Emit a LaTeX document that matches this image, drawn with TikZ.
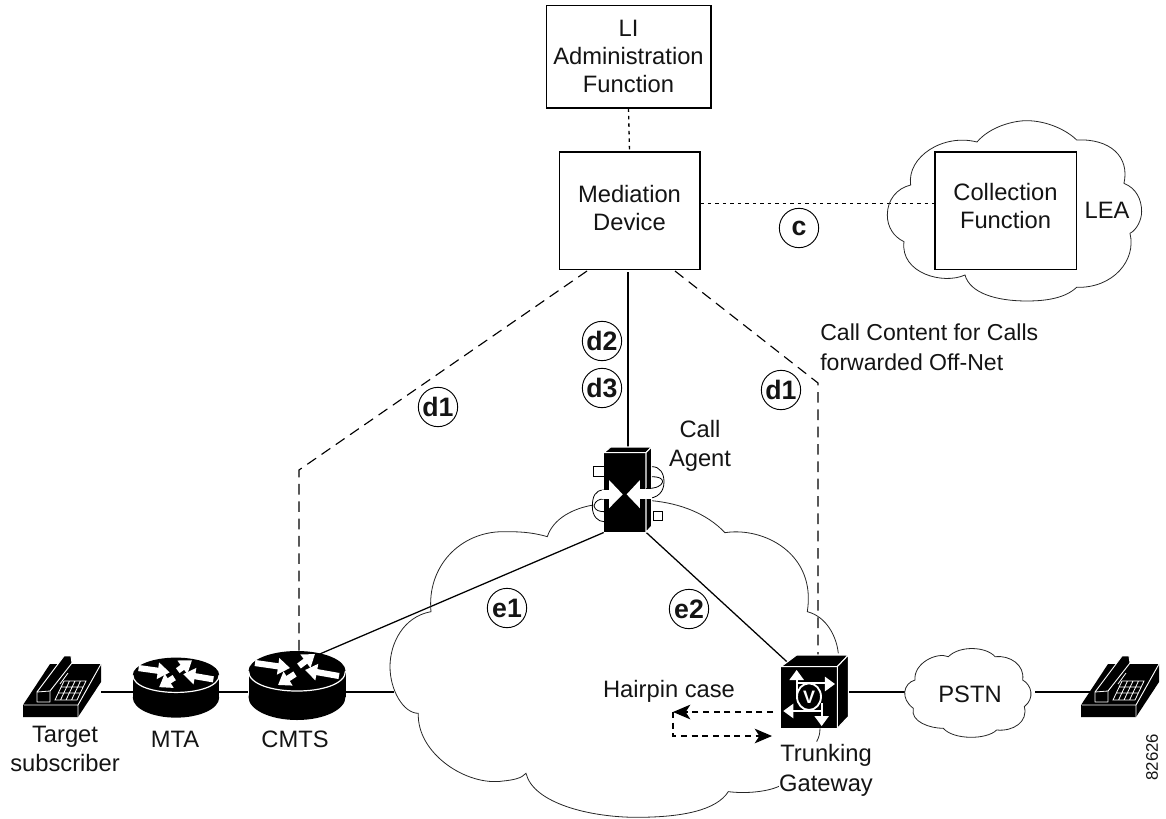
\documentclass[tikz,border=0pt]{standalone}
\usepackage{fontspec}
\setmainfont{Liberation Sans}
\usetikzlibrary{arrows.meta,backgrounds,calc,shapes.geometric}
\tikzset{
  every node/.style={inner sep=0pt,font=\fontsize{17.8}{21}\selectfont,text=black!92},
  boxn/.style={draw,line width=1pt,fill=white,align=center},
  labeln/.style={align=center},
  circn/.style={circle,draw,line width=.7pt,fill=white,minimum size=29.5pt,font=\fontsize{20}{21}\selectfont\bfseries},
  devn/.style={fill=black},
  holder/.style={},
  dotline/.style={line width=1pt,dash pattern=on 2.6pt off 3pt},
  dashline/.style={line width=.85pt,dash pattern=on 8pt off 5pt},
  hairline/.style={line width=.8pt,dash pattern=on 4.5pt off 3.5pt},
  solidline/.style={line width=.95pt},
  thickline/.style={line width=2.1pt},
  cloudline/.style={line width=.6pt,black!85},
  facen/.style={fill=black,draw=white,line width=.8pt,line join=round},
  wh/.style={white,line width=1.4pt},
  routerp/.pic={
    \fill (0,0) ellipse [x radius=48.5,y radius=20];
    \fill (0,26) ellipse [x radius=48.5,y radius=23];
    \fill (-48.5,0) rectangle (48.5,26);
    \draw[white,line width=.9pt] (-48.5,0) .. controls (-48.5,26.7) and (48.5,26.7) .. (48.5,0);
    \foreach \a/\b/\c/\d in {-42/-8/-7/-3, 2/-5/18/-17, 42/5/8/-1, -2/3/-19/14}
      \draw[white,line width=4.6pt,-{Triangle[length=9pt,width=12pt]}] (\a,\b) -- (\c,\d);
  },
  phonep/.pic={
    \fill[black] (27,-53) -- (78,-53) -- (78,-35) -- (55,0) -- (0,0) -- (0,-12) -- cycle;
    \draw[white,line width=.7pt] (0,-12) -- (55,-12) -- (55,0) (55,-12) -- (78,-53);
    \draw[black,line width=.5pt] (0,0) -- (0,-12);
    \draw[fill=black,draw=white,line width=.7pt,line join=round] (14,-15) -- (27,-15) -- (27,-26) -- (49,-54) -- (48,-61) -- (41,-61) -- (14,-25) -- cycle;
    \draw[white,line width=.6pt] (14,-25) -- (27,-26);
    \draw[white,line width=.6pt] (45,-44) -- (37,-33);
    \draw[white,line width=.6pt] (41,-36) -- (63,-36) -- (54,-17) -- (32,-17) -- cycle
      (38,-30) -- (60,-30) (35,-24) -- (57,-24)
      (46.5,-36) -- (37.5,-17) (52,-36) -- (43,-17) (57.5,-36) -- (48.5,-17);
  },
}
\begin{document}
\begin{tikzpicture}[x=.75pt,y=-.75pt]
\useasboundingbox (0,0) rectangle (1166,818);

% boxes
\node[boxn,minimum width=123.5pt,minimum height=77pt] (li) at (628.5,56.5) {LI\\Administration\\Function};
\node[boxn,minimum width=105.5pt,minimum height=88pt] (med) at (629.5,210.5) {Mediation\\Device\rule[-4.5pt]{0pt}{0pt}};
\node[boxn,minimum width=106pt,minimum height=88pt] (coll) at (1005.5,210.5) {Collection\\Function\rule[-7.5pt]{0pt}{0pt}};

% devices
\node[devn,minimum width=31.5pt,minimum height=59.6pt] (ca) at (625,492.5) {};
\node[devn,minimum width=42pt,minimum height=46pt] (tgw) at (809,697.5) {};
\node[holder,minimum width=72.75pt,minimum height=42pt] (cmts) at (297,692) {};
\node[holder,minimum width=64.5pt,minimum height=42pt] (mta) at (176,692) {};
\node[holder,minimum width=58.5pt,minimum height=42pt] (ph1) at (62,692) {};
\node[holder,minimum width=45pt,minimum height=42pt] (ph2) at (1120,692) {};
\node[labeln,minimum width=97.5pt,text height=15pt,text depth=0pt] (pstn) at (970,692) {PSTN};

% free ends of connectors
\coordinate (netin) at (394,692);
\coordinate (mleft) at (587,271);
\coordinate (mright) at (675,271);
\coordinate (lbend) at (299,470);
\coordinate (rbend) at (818,383);
\coordinate (hpa) at (773,712);
\coordinate (hpb) at (673,712);
\coordinate (hpc) at (673,736);
\coordinate (hpd) at (772,736);
\coordinate (catop) at (628,450);
\coordinate (medfoot) at (628,272);

\begin{pgfonlayer}{background}
  \draw[thickline] (ph1.east) -- (mta.west);
  \draw[thickline] (mta.east) -- (cmts.west);
  \draw[thickline] (cmts.east) -- (netin);
  \draw[thickline] (tgw.east |- pstn.west) -- (pstn.west);
  \draw[thickline] (pstn.east) -- (ph2.west);
  \draw[dotline] (li.south) -- (med.north);
  \draw[dotline] ([yshift=5.5pt]med.east) -- ([yshift=5.5pt]coll.west);
  \draw[dashline] (mleft) -- (lbend) -- ($(cmts.north)+(2,0)$);
  \draw[dashline] (mright) -- (rbend) -- (rbend |- tgw.north);
  \draw[solidline] (medfoot) -- (catop);
  \draw[solidline] (ca.south west) -- (cmts.north);
  \draw[solidline] (ca.south east) -- ($(tgw.north west)+(6,-5)$);
  % main cloud
  \begin{scope}[shift={(370,480)},scale=.3333]
    \draw[cloudline] (670,75) .. controls (610,85) and (550,115) .. (532,170)
      .. controls (480,155) and (440,155) .. (400,155)
      .. controls (270,155) and (170,260) .. (183,395)
      .. controls (100,410) and (60,490) .. (60,560)
      .. controls (60,630) and (100,700) .. (145,700)
      .. controls (140,820) and (290,920) .. (400,903)
      .. controls (430,900) and (455,895) .. (468,880)
      .. controls (490,970) and (660,1012) .. (800,1012)
      .. controls (940,1012) and (1040,990) .. (1075,935)
      .. controls (1130,942) and (1200,935) .. (1235,915);
    \draw[cloudline] (845,62) .. controls (930,70) and (1010,100) .. (1065,158)
      .. controls (1180,140) and (1340,220) .. (1312,395)
      .. controls (1370,410) and (1400,470) .. (1405,520);
    \draw[cloudline] (1340,785) .. controls (1348,770) and (1350,760) .. (1350,745);
  \end{scope}
  % LEA cloud
  \begin{scope}[shift={(680,100)},scale=.3333]
    \draw[cloudline] (891,126) .. controls (930,80) and (1000,62) .. (1040,62)
      .. controls (1100,62) and (1160,90) .. (1190,120)
      .. controls (1290,115) and (1350,170) .. (1332,250)
      .. controls (1370,265) and (1385,300) .. (1385,335)
      .. controls (1385,360) and (1370,390) .. (1350,400)
      .. controls (1370,480) and (1300,565) .. (1190,562)
      .. controls (1150,600) and (1080,603) .. (1040,603)
      .. controls (950,603) and (870,580) .. (855,525)
      .. controls (790,555) and (660,520) .. (672,425)
      .. controls (640,410) and (622,380) .. (622,345)
      .. controls (622,300) and (650,265) .. (692,255)
      .. controls (680,170) and (790,100) .. (891,126) -- cycle;
  \end{scope}
  % PSTN cloud
  \begin{scope}[shift={(880,640)},scale=.3333]
    \draw[cloudline,fill=white] (105,120) .. controls (100,70) and (170,35) .. (205,50)
      .. controls (240,15) and (320,20) .. (345,50)
      .. controls (390,45) and (435,75) .. (428,120)
      .. controls (455,135) and (465,175) .. (433,200)
      .. controls (445,245) and (400,275) .. (350,270)
      .. controls (320,300) and (220,300) .. (190,265)
      .. controls (150,265) and (90,245) .. (100,205)
      .. controls (60,175) and (70,130) .. (105,120) -- cycle;
  \end{scope}
\end{pgfonlayer}

% hairpin
\draw[hairline,-{Stealth[length=13pt,width=11pt,inset=3.5pt]}] (hpa) -- (hpb);
\draw[hairline,-{Stealth[length=13pt,width=11pt,inset=3.5pt]}] (hpb) -- (hpc) -- (hpd);

% routers and phones
\pic at (297,671) {routerp};
\pic[xscale=.89,yscale=.87] at (176,675) {routerp};
\pic at (23,717) {phonep};
\pic at (1081,717) {phonep};

% call agent details
\begin{scope}[shift={(540,400)},scale=.3333]
  \draw[facen] (192,158) -- (212,141) -- (335,141) -- (318,158) -- cycle;
  \draw[facen] (318,158) -- (335,141) -- (335,378) -- (318,397) -- cycle;
  \draw[fill=white,line width=.6pt] (161,200) rectangle (192,230);
  \draw[fill=white,line width=.6pt] (340,335) rectangle (367,362);
  \draw[line width=.6pt] (192,270) .. controls (165,270) and (157,290) .. (157,320) .. controls (157,350) and (175,365) .. (192,365);
  \draw[line width=.6pt] (192,297) .. controls (178,297) and (165,302) .. (162,318) .. controls (165,332) and (180,335) .. (192,335);
  \draw[line width=.6pt] (336,200) .. controls (360,200) and (372,220) .. (372,245) .. controls (372,275) and (355,295) .. (318,296);
  \draw[line width=.6pt] (336,230) .. controls (355,230) and (368,235) .. (368,245) .. controls (365,258) and (350,265) .. (318,266);
  \fill[white] (185,270) rectangle (212,297);
  \fill[white] (296,266) rectangle (336,296);
  \fill[white] (207,240) -- (248,283) -- (207,325) -- cycle;
  \fill[white] (300,240) -- (260,283) -- (300,325) -- cycle;
\end{scope}

% trunking gateway details
\begin{scope}[shift={(600,640)},scale=.3333]
  \draw[facen] (543,80) -- (590,45) -- (745,45) -- (712,80) -- cycle;
  \draw[facen] (712,80) -- (745,45) -- (745,230) -- (712,265) -- cycle;
  \draw[wh] (590,115) -- (590,172) (590,130) -- (680,130);
  \draw[wh] (575,213) -- (665,213) -- (665,190) (665,190) -- (665,235);
  \fill[white] (590,90) -- (568,120) -- (612,120) -- cycle;
  \fill[white] (705,132) -- (675,110) -- (675,154) -- cycle;
  \fill[white] (550,213) -- (580,191) -- (580,235) -- cycle;
  \fill[white] (665,258) -- (643,228) -- (687,228) -- cycle;
  \draw[white,fill=black,line width=1.4pt] (627,170) ellipse [x radius=36,y radius=40];
\end{scope}
\node[font=\fontsize{13.5}{14}\selectfont\bfseries,text=white] (vmark) at (809,697) {V};

% connector badges
\node[circn] (bc) at (799,228) {c};
\node[circn] (bd2) at (602,341) {d2};
\node[circn] (bd3) at (602,388) {d3};
\node[circn] (bd1l) at (438,407) {d1};
\node[circn] (bd1r) at (781,390) {d1};
\node[circn] (be1) at (507,608) {e1};
\node[circn] (be2) at (689,609) {e2};

% labels
\node[labeln] (lea) at (1107,210.5) {LEA};
\node[labeln,align=left,anchor=west,font=\fontsize{17.3}{22.5}\selectfont] (cc) at (820,347.5) {Call Content for Calls\\forwarded Off-Net};
\node[labeln,font=\fontsize{17.8}{22}\selectfont] (calab) at (700,446) {Call\\Agent};
\node[labeln,anchor=base] (hair) at (669,697) {Hairpin case};
\node[labeln,fill=white,font=\fontsize{17.8}{22.5}\selectfont] (tglab) at (826,770) {Trunking\\Gateway};
\node[labeln,font=\fontsize{17.8}{22}\selectfont] (tslab) at (65,749) {Target\\subscriber};
\node[labeln,anchor=base] (mtalab) at (175,747) {MTA};
\node[labeln,anchor=base] (cmtslab) at (295,747) {CMTS};
\node[rotate=90,font=\fontsize{12.6}{14}\selectfont] (figno) at (1152,757) {82626};
\end{tikzpicture}
\end{document}
